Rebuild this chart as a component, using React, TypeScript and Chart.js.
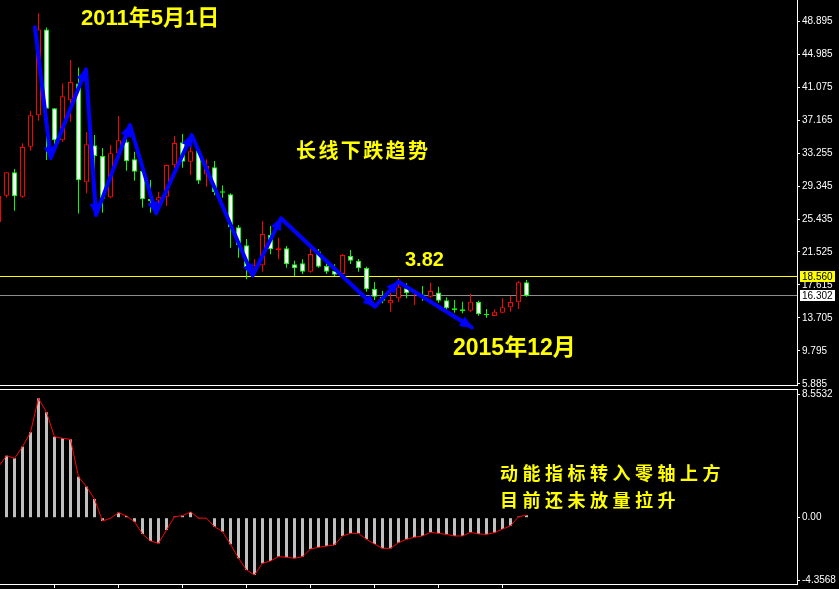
import React, { useEffect, useRef } from 'react';
import { Chart, registerables } from 'chart.js';

Chart.register(...registerables);

// Candle index of the first element of every series (the bar cut by the left edge)
const firstIndex = -1;

const opens = [25.08, 28.2, 30.97, 28.08, 34.0, 37.72, 47.9, 38.56, 34.77, 39.5, 41.5, 29.78, 34.16, 32.9, 28.0, 33.22, 34.6, 32.5, 31.12, 27.8, 27.62, 28.08, 31.8, 34.52, 32.22, 33.53, 30.73, 31.56, 28.72, 28.36, 24.45, 22.32, 19.55, 19.95, 23.54, 21.73, 21.96, 20.07, 20.18, 19.19, 21.57, 19.87, 19.27, 18.92, 21.05, 20.5, 19.63, 17.14, 16.19, 15.44, 16.04, 17.22, 16.66, 16.5, 16.23, 16.74, 15.8, 14.85, 14.73, 14.57, 15.6, 14.22, 13.94, 14.33, 14.97, 15.57, 17.94];
const highs = [28.3, 31.0, 31.36, 34.41, 38.23, 49.81, 48.14, 38.6, 41.5, 44.27, 43.4, 35.74, 35.39, 33.85, 34.2, 37.64, 35.4, 33.41, 31.44, 30.05, 28.67, 31.9, 35.27, 35.5, 34.0, 33.7, 32.5, 32.3, 29.4, 28.5, 24.72, 23.07, 20.66, 25.2, 24.6, 23.22, 22.24, 20.5, 20.66, 22.03, 21.88, 20.26, 20.07, 21.29, 21.76, 20.7, 19.79, 17.97, 16.94, 17.5, 18.41, 17.82, 17.02, 17.5, 17.89, 17.41, 16.16, 15.84, 15.63, 16.55, 15.75, 14.77, 14.73, 16.04, 16.35, 18.09, 18.21];
const lows = [24.9, 27.96, 26.42, 27.96, 33.53, 37.08, 32.43, 34.0, 34.6, 36.96, 26.1, 28.48, 31.24, 26.17, 27.9, 33.1, 31.16, 29.97, 26.8, 26.17, 27.27, 26.99, 31.44, 31.5, 30.65, 29.58, 29.26, 28.24, 27.96, 22.03, 20.85, 18.29, 19.5, 19.19, 21.25, 20.66, 19.67, 18.68, 18.92, 19.08, 19.67, 18.92, 18.68, 18.8, 20.1, 19.19, 16.82, 15.84, 15.44, 14.45, 15.63, 16.04, 15.24, 15.75, 16.1, 15.51, 14.45, 14.33, 14.26, 14.45, 13.98, 13.74, 13.9, 14.3, 14.45, 14.77, 16.23];
const closes = [28.16, 30.97, 28.13, 33.97, 37.72, 47.9, 38.5, 34.77, 39.98, 41.67, 30.02, 34.28, 32.9, 27.84, 33.22, 34.77, 32.28, 31.04, 27.77, 27.53, 28.0, 31.84, 34.44, 32.22, 33.45, 29.97, 31.72, 28.64, 28.56, 24.45, 22.35, 19.71, 19.95, 23.66, 21.85, 21.96, 20.07, 19.59, 19.19, 21.29, 19.79, 19.19, 18.83, 21.17, 20.5, 19.59, 17.1, 16.23, 15.75, 15.84, 17.41, 16.63, 16.82, 16.23, 16.9, 15.75, 14.85, 14.65, 14.53, 15.63, 14.14, 14.06, 14.45, 14.97, 15.6, 17.94, 16.302];

// Momentum histogram (one value per candle)
const macdValues = [3.55, 4.31, 4.13, 4.94, 5.94, 8.3, 7.33, 5.63, 5.52, 5.45, 2.85, 2.16, 1.3, -0.23, -0.04, 0.35, 0.12, -0.28, -1.13, -1.62, -1.78, -0.86, 0.07, 0.14, 0.4, -0.02, -0.04, -0.62, -0.97, -1.85, -2.82, -3.64, -3.98, -3.17, -3.01, -2.71, -2.75, -2.82, -2.71, -2.18, -2.06, -1.97, -1.9, -1.27, -1.09, -1.09, -1.5, -1.83, -2.13, -2.13, -1.74, -1.5, -1.36, -1.27, -1.02, -1.09, -1.16, -1.27, -1.27, -1.02, -1.13, -1.16, -1.04, -0.79, -0.56, 0.07, 0.17];

// Trend zig-zag (candle position, price)
const trendX = [3.56, 5.53, 9.94, 11.19, 15.44, 18.69, 23.15, 30.78, 34.31, 46.06, 48.98, 58.15];
const trendY = [48.15, 32.63, 43.17, 25.91, 36.57, 26.11, 35.39, 18.72, 25.52, 15.04, 18.0, 12.6];

const priceTicks = [48.895, 44.985, 41.075, 37.165, 33.255, 29.345, 25.435, 21.525, 17.615, 13.705, 9.795, 5.885];
const macdTicks = [8.5532, 0, -4.3568];
const macdTickLabels = ['8.5532', '0.00', '-4.3568'];
const timeTicks = [6, 14, 22, 30, 38, 46, 54, 62];

const resistanceLevel = 18.56;
const lastPrice = 16.302;

// Visible ranges of the two panels
const X_MIN = -0.8125;
const X_MAX = 98.8125;
const PRICE_MIN = 5.766;
const PRICE_MAX = 51.384;
const MACD_MIN = -4.61;
const MACD_MAX = 8.95;

const W = 839;
const H = 589;
const AXIS_W = 42;
const PRICE_BOTTOM = 385;
const MACD_TOP = 389;

const AXIS_FONT = { family: '"Liberation Sans", Arial, sans-serif', size: 10 };
const YELLOW = '#ffff00';

const idx = opens.map((_, k) => k + firstIndex);
const isUp = (k: number) => closes[k] >= opens[k];

function drawSpaced(ctx: CanvasRenderingContext2D, text: string, x: number, y: number, pitch: number) {
  Array.from(text).forEach((ch, k) => ctx.fillText(ch, x + k * pitch, y));
}

const priceDecor = {
  id: 'priceDecor',
  beforeDatasetsDraw(chart: any) {
    const { ctx, chartArea, scales } = chart;
    ctx.save();
    ctx.lineWidth = 1;
    const ry = Math.round(scales.y.getPixelForValue(resistanceLevel)) - 0.5;
    ctx.strokeStyle = YELLOW;
    ctx.beginPath();
    ctx.moveTo(chartArea.left, ry);
    ctx.lineTo(chartArea.right, ry);
    ctx.stroke();
    const ly = Math.round(scales.y.getPixelForValue(lastPrice)) - 0.5;
    ctx.strokeStyle = '#8c8c8c';
    ctx.beginPath();
    ctx.moveTo(chartArea.left, ly);
    ctx.lineTo(chartArea.right, ly);
    ctx.stroke();
    ctx.restore();
  },
  afterDatasetsDraw(chart: any) {
    const { ctx } = chart;
    const meta = chart.getDatasetMeta(2);
    ctx.save();
    ctx.fillStyle = '#0000ff';
    for (let k = 1; k < meta.data.length; k++) {
      const a = meta.data[k - 1];
      const b = meta.data[k];
      const ang = Math.atan2(b.y - a.y, b.x - a.x);
      const c = Math.cos(ang);
      const s = Math.sin(ang);
      const tipX = b.x + c * 1.5;
      const tipY = b.y + s * 1.5;
      const len = 13;
      const half = 5.5;
      ctx.beginPath();
      ctx.moveTo(tipX, tipY);
      ctx.lineTo(tipX - c * len - s * half, tipY - s * len + c * half);
      ctx.lineTo(tipX - c * len + s * half, tipY - s * len - c * half);
      ctx.closePath();
      ctx.fill();
    }
    ctx.restore();
  },
  afterDraw(chart: any) {
    const { ctx, chartArea, scales } = chart;
    ctx.save();
    // panel frame
    ctx.strokeStyle = '#ffffff';
    ctx.lineWidth = 1;
    ctx.beginPath();
    ctx.moveTo(0, chartArea.bottom + 0.5);
    ctx.lineTo(chartArea.right + 1, chartArea.bottom + 0.5);
    ctx.stroke();

    // price tags on the axis
    const tagX = scales.y.left + 3;
    ctx.font = '10px "Liberation Sans", Arial, sans-serif';
    ctx.textBaseline = 'middle';
    ctx.textAlign = 'left';
    const tags: [number, string][] = [[resistanceLevel, YELLOW], [lastPrice, '#ffffff']];
    tags.forEach(([v, bg]) => {
      const y = Math.round(scales.y.getPixelForValue(v));
      ctx.fillStyle = bg;
      ctx.fillRect(tagX, y - 6, 35, 11);
      ctx.fillStyle = '#000000';
      ctx.fillText(v.toFixed(3), tagX + 2, y);
    });

    // annotations
    ctx.fillStyle = YELLOW;
    ctx.textBaseline = 'alphabetic';
    ctx.font = 'bold 22px "Liberation Sans", "Noto Sans CJK SC", sans-serif';
    ctx.fillText('2011年5月1日', 81, 25);
    ctx.font = 'bold 23px "Liberation Sans", "Noto Sans CJK SC", sans-serif';
    ctx.fillText('2015年12月', 453, 355);
    ctx.font = 'bold 20px "Liberation Sans", Arial, sans-serif';
    ctx.fillText('3.82', 405, 266);
    ctx.font = 'bold 20px "Noto Sans CJK SC", sans-serif';
    drawSpaced(ctx, '长线下跌趋势', 296, 158, 22.4);
    ctx.restore();
  },
};

const macdDecor = {
  id: 'macdDecor',
  afterDraw(chart: any) {
    const { ctx, chartArea } = chart;
    ctx.save();
    ctx.strokeStyle = '#ffffff';
    ctx.lineWidth = 1;
    ctx.beginPath();
    ctx.moveTo(0, chartArea.top + 0.5);
    ctx.lineTo(chartArea.right + 1, chartArea.top + 0.5);
    ctx.stroke();
    ctx.fillStyle = YELLOW;
    ctx.textBaseline = 'alphabetic';
    ctx.font = 'bold 18px "Noto Sans CJK SC", sans-serif';
    drawSpaced(ctx, '动能指标转入零轴上方', 500, 480, 22.5);
    drawSpaced(ctx, '目前还未放量拉升', 500, 507, 22.5);
    ctx.restore();
  },
};

function yAxis(min: number, max: number, ticks: number[], label: (v: number, i: number) => string) {
  return {
    type: 'linear',
    position: 'right',
    min,
    max,
    afterBuildTicks: (s: any) => {
      s.ticks = ticks.map((v) => ({ value: v }));
    },
    afterFit: (s: any) => {
      s.width = AXIS_W;
      s.paddingTop = 0;
      s.paddingBottom = 0;
    },
    grid: { drawOnChartArea: false, color: '#ffffff', tickLength: 3, offset: false },
    border: { display: true, color: '#ffffff' },
    ticks: {
      color: '#ffffff',
      font: AXIS_FONT,
      padding: 2,
      autoSkip: false,
      callback: (v: any, i: number) => label(Number(v), i),
    },
  };
}

function priceConfig(): any {
  return {
    type: 'bar',
    data: {
      datasets: [
        {
          type: 'bar',
          label: 'wick',
          data: idx.map((x, k) => ({ x, y: [lows[k], highs[k]] })),
          backgroundColor: idx.map((_, k) => (isUp(k) ? '#ff0000' : '#00ff00')),
          borderWidth: 0,
          grouped: false,
          maxBarThickness: 1,
          inflateAmount: 0,
          order: 3,
        },
        {
          type: 'bar',
          label: 'body',
          data: idx.map((x, k) => ({ x, y: [opens[k], closes[k]] })),
          backgroundColor: idx.map((_, k) => (isUp(k) ? '#000000' : '#ffffff')),
          borderColor: idx.map((_, k) => (isUp(k) ? '#ff0000' : '#00ff00')),
          borderWidth: 1,
          borderSkipped: false,
          grouped: false,
          maxBarThickness: 5,
          inflateAmount: 0,
          order: 2,
        },
        {
          type: 'line',
          label: 'trend',
          data: trendX.map((x, k) => ({ x, y: trendY[k] })),
          borderColor: '#0000ff',
          borderWidth: 4,
          borderJoinStyle: 'round',
          borderCapStyle: 'round',
          pointRadius: 0,
          tension: 0,
          order: 1,
        },
      ],
    },
    options: {
      responsive: false,
      animation: false,
      devicePixelRatio: 1,
      events: [],
      layout: { padding: { left: 0, top: 0, right: 0, bottom: H - PRICE_BOTTOM } },
      plugins: { legend: { display: false }, tooltip: { enabled: false } },
      scales: {
        x: { type: 'linear', min: X_MIN, max: X_MAX, offset: false, display: false, grid: { offset: false } },
        y: yAxis(PRICE_MIN, PRICE_MAX, priceTicks, (v) => v.toFixed(3)),
      },
    },
    plugins: [priceDecor],
  };
}

function macdConfig(): any {
  return {
    type: 'bar',
    data: {
      datasets: [
        {
          type: 'bar',
          label: 'histogram',
          data: idx.map((x, k) => ({ x, y: macdValues[k] })),
          backgroundColor: '#c0c0c0',
          borderWidth: 0,
          grouped: false,
          maxBarThickness: 3,
          inflateAmount: 0,
          order: 2,
        },
        {
          type: 'line',
          label: 'signal',
          data: idx.map((x, k) => ({ x, y: macdValues[k] })),
          borderColor: '#ff0000',
          borderWidth: 1,
          pointRadius: 0,
          tension: 0,
          order: 1,
        },
      ],
    },
    options: {
      responsive: false,
      animation: false,
      devicePixelRatio: 1,
      events: [],
      layout: { padding: { left: 0, top: MACD_TOP, right: 0, bottom: 0 } },
      plugins: { legend: { display: false }, tooltip: { enabled: false } },
      scales: {
        x: {
          type: 'linear',
          min: X_MIN,
          max: X_MAX,
          offset: false,
          afterBuildTicks: (s: any) => {
            s.ticks = timeTicks.map((v) => ({ value: v }));
          },
          afterFit: (s: any) => {
            s.height = 5;
            s.paddingLeft = 0;
            s.paddingRight = 0;
          },
          grid: { drawOnChartArea: false, color: '#ffffff', tickLength: 4, offset: false },
          border: { display: true, color: '#ffffff' },
          ticks: { display: false },
        },
        y: yAxis(MACD_MIN, MACD_MAX, macdTicks, (_v, i) => macdTickLabels[i]),
      },
    },
    plugins: [macdDecor],
  };
}

export default function App() {
  const priceRef = useRef<HTMLCanvasElement>(null);
  const macdRef = useRef<HTMLCanvasElement>(null);

  useEffect(() => {
    document.body.style.margin = '0';
    document.body.style.background = '#000000';
    const price = new Chart(priceRef.current as HTMLCanvasElement, priceConfig());
    const macd = new Chart(macdRef.current as HTMLCanvasElement, macdConfig());
    return () => {
      price.destroy();
      macd.destroy();
    };
  }, []);

  const canvasStyle: React.CSSProperties = { position: 'absolute', left: 0, top: 0, width: W, height: H };
  return (
    <div style={{ position: 'fixed', left: 0, top: 0, width: W, height: H, background: '#000000', overflow: 'hidden' }}>
      <canvas ref={priceRef} width={W} height={H} style={canvasStyle} />
      <canvas ref={macdRef} width={W} height={H} style={canvasStyle} />
    </div>
  );
}
